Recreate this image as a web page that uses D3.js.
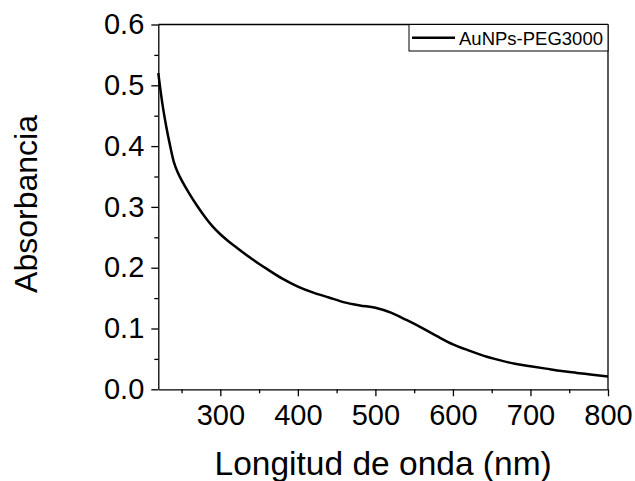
<!DOCTYPE html>
<html lang="en">
	<head>
		<meta charset="utf-8">
		<title>Absorbancia AuNPs-PEG3000</title>
		<script type="text/javascript" src="https://cdn.jsdelivr.net/npm/d3@7"></script>
		<style type="text/css">
			body { margin: 0; background: #fff; }
			text { font-family: "Liberation Sans", Arial, sans-serif; fill: #000; }
		</style>
	</head>
	<body>
		<script type="text/javascript">
			//Data
			var wavelength = [220, 225, 230, 235, 240, 245, 250, 260, 270, 280, 290, 300, 310,
							  320, 340, 360, 380, 400, 420, 440, 460, 480, 500, 520, 540,
							  560, 580, 600, 620, 640, 660, 680, 700, 720, 740, 760, 780, 800];
			var absorbance = [0.520, 0.472, 0.434, 0.402, 0.374, 0.357, 0.344, 0.322, 0.302, 0.284, 0.268, 0.255, 0.244,
							  0.234, 0.215, 0.198, 0.182, 0.169, 0.159, 0.151, 0.143, 0.138, 0.134, 0.126, 0.114,
							  0.101, 0.087, 0.074, 0.064, 0.055, 0.048, 0.042, 0.038, 0.034, 0.030, 0.027, 0.024, 0.021];
			var xTicks = [300, 400, 500, 600, 700, 800];
			var xMinor = [250, 350, 450, 550, 650, 750];
			var yTicks = [0.0, 0.1, 0.2, 0.3, 0.4, 0.5, 0.6];
			var yMinor = [0.05, 0.15, 0.25, 0.35, 0.45, 0.55];
			var seriesName = "AuNPs-PEG3000";

			//Width and height
			var w = 635;
			var h = 481;
			var margin = {top: 24.5, right: 27, bottom: 91.7, left: 158.3};
			var iw = w - margin.left - margin.right;
			var ih = h - margin.top - margin.bottom;

			var svg = d3.select("body")
						.append("svg")
						.attr("width", w)
						.attr("height", h);

			var g = svg.append("g")
					   .attr("transform", "translate(" + margin.left + "," + margin.top + ")");

			var x = d3.scaleLinear().domain([220, 800]).range([0, iw]);
			var y = d3.scaleLinear().domain([0, 0.6]).range([ih, 0]);

			//minor ticks
			g.append("g")
			 .attr("transform", "translate(0," + ih + ")")
			 .call(d3.axisBottom(x).tickValues(xMinor).tickSize(4).tickFormat(""))
			 .call(function(s) { s.select(".domain").remove(); });
			g.append("g")
			 .call(d3.axisLeft(y).tickValues(yMinor).tickSize(4).tickFormat(""))
			 .call(function(s) { s.select(".domain").remove(); });

			//major axes
			var xAxis = g.append("g")
						 .attr("transform", "translate(0," + ih + ")")
						 .call(d3.axisBottom(x).tickValues(xTicks).tickSize(7).tickSizeOuter(0).tickPadding(8));
			xAxis.selectAll("text").attr("font-size", "29px").attr("dy", "0.71em");

			var yAxis = g.append("g")
						 .call(d3.axisLeft(y).tickValues(yTicks).tickSize(7).tickSizeOuter(0).tickPadding(7)
						 .tickFormat(d3.format(".1f")));
			yAxis.selectAll("text").attr("font-size", "29px");

			svg.selectAll(".domain, .tick line").attr("stroke", "#000").attr("stroke-width", 1.3);

			//top and right frame
			g.append("line").attr("x1", 0).attr("x2", iw).attr("y1", 0).attr("y2", 0)
			 .attr("stroke", "#000").attr("stroke-width", 1.3);
			g.append("line").attr("x1", iw).attr("x2", iw).attr("y1", 0).attr("y2", ih)
			 .attr("stroke", "#000").attr("stroke-width", 1.3);

			//curve
			var line = d3.line()
						 .x(function(d, i) { return x(wavelength[i]); })
						 .y(function(d) { return y(d); })
						 .curve(d3.curveMonotoneX);
			g.append("path")
			 .datum(absorbance)
			 .attr("d", line)
			 .attr("fill", "none")
			 .attr("stroke", "#000")
			 .attr("stroke-width", 2.5);

			//legend
			var lg = g.append("g").attr("transform", "translate(" + (iw - 199) + ",0)");
			lg.append("rect")
			  .attr("x", 0).attr("y", 0).attr("width", 199).attr("height", 26.5)
			  .attr("fill", "#fff").attr("stroke", "#000").attr("stroke-width", 1);
			lg.append("line")
			  .attr("x1", 3).attr("x2", 46).attr("y1", 13.2).attr("y2", 13.2)
			  .attr("stroke", "#000").attr("stroke-width", 2.5);
			lg.append("text")
			  .attr("x", 50).attr("y", 20.5)
			  .attr("font-size", "18.5px")
			  .text(seriesName);

			//axis titles
			svg.append("text")
			   .attr("x", margin.left + iw / 2)
			   .attr("y", 475)
			   .attr("text-anchor", "middle")
			   .attr("font-size", "33.5px")
			   .text("Longitud de onda (nm)");
			svg.append("text")
			   .attr("transform", "translate(37," + 204 + ") rotate(-90)")
			   .attr("text-anchor", "middle")
			   .attr("font-size", "32px")
			   .text("Absorbancia");
		</script>
	</body>
</html>
